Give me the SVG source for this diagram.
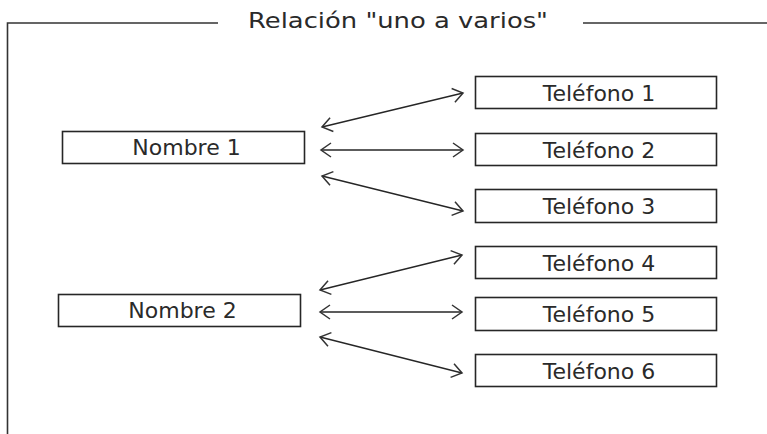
<svg xmlns="http://www.w3.org/2000/svg" width="767" height="434" viewBox="0 0 767 434">
<style>
  .box { fill: #ffffff; stroke: #262626; stroke-width: 1.6; }
  .lbl { font-family: "DejaVu Sans", Verdana, sans-serif; font-size: 22px; fill: #2a2a2a; text-anchor: middle; }
  .title { font-family: "DejaVu Sans", Verdana, sans-serif; font-size: 21px; fill: #2a2a2a; }
  .frame { stroke: #333333; stroke-width: 1.6; fill: none; }
  .conn { stroke: #262626; stroke-width: 1.3; fill: none; marker-start: url(#arr); marker-end: url(#arr); }
</style>
<defs>
  <marker id="arr" markerUnits="userSpaceOnUse" viewBox="-12 -9 14 18" refX="0" refY="0" markerWidth="14" markerHeight="18" orient="auto-start-reverse">
    <path d="M-10,-7 L0,0 L-10,7" fill="none" stroke="#333333" stroke-width="1.5"/>
  </marker>
</defs>
<rect width="767" height="434" fill="#ffffff"/>
<g id="frame">
  <path class="frame" d="M7.5,434 L7.5,23 L218,23"/>
  <path class="frame" d="M583,23 L767,23"/>
  <text class="title" x="248" y="27.5" textLength="300" lengthAdjust="spacingAndGlyphs">Relación "uno a varios"</text>
</g>
<g id="connectors">
  <line class="conn" x1="322" y1="127" x2="463" y2="93"/>
  <line class="conn" x1="321" y1="150" x2="463" y2="150"/>
  <line class="conn" x1="322" y1="176" x2="463" y2="211"/>
  <line class="conn" x1="320" y1="290" x2="462" y2="255"/>
  <line class="conn" x1="320" y1="312" x2="462" y2="312"/>
  <line class="conn" x1="320" y1="337" x2="462" y2="373"/>
</g>
<g id="nombre1"><rect class="box" x="62.5" y="131.5" width="242" height="32"/><text class="lbl" x="186.5" y="155">Nombre 1</text></g>
<g id="nombre2"><rect class="box" x="58.5" y="294.5" width="242" height="32"/><text class="lbl" x="182.5" y="318">Nombre 2</text></g>
<g id="telefono1"><rect class="box" x="475.5" y="76.5" width="241" height="32"/><text class="lbl" x="599" y="100.5">Teléfono 1</text></g>
<g id="telefono2"><rect class="box" x="475.5" y="133.5" width="241" height="32"/><text class="lbl" x="599" y="157.5">Teléfono 2</text></g>
<g id="telefono3"><rect class="box" x="475.5" y="189.5" width="241" height="33"/><text class="lbl" x="599" y="214">Teléfono 3</text></g>
<g id="telefono4"><rect class="box" x="475.5" y="246.5" width="241" height="32"/><text class="lbl" x="599" y="270.5">Teléfono 4</text></g>
<g id="telefono5"><rect class="box" x="475.5" y="297.5" width="241" height="33"/><text class="lbl" x="599" y="322">Teléfono 5</text></g>
<g id="telefono6"><rect class="box" x="475.5" y="354.5" width="241" height="32"/><text class="lbl" x="599" y="378.5">Teléfono 6</text></g>
</svg>
